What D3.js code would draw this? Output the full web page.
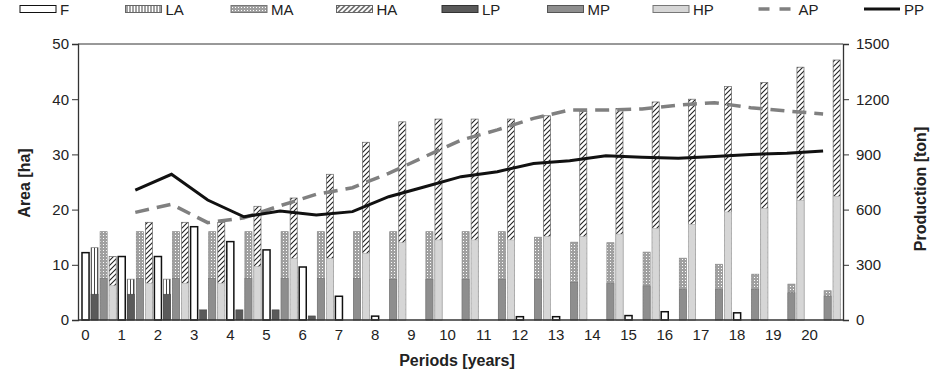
<!DOCTYPE html>
<html>
<head>
<meta charset="utf-8">
<script src="https://cdn.jsdelivr.net/npm/d3@7"></script>
<style>
  body { margin: 0; background: #fff; }
  svg { display: block; font-family: "Liberation Sans", Arial, sans-serif; }
</style>
</head>
<body>
<div id="chart"></div>
<script>
const width = 930;
const height = 372;

// periods (x tick labels)
const periods = d3.range(0, 21);

// area bars [ha]
const F  = [12.2, 11.5, 11.5, 16.9, 14.2, 12.7, 9.6, 4.3, 0.7, 0, 0, 0, 0.6, 0.6, 0, 0.8, 1.5, 0, 1.3, 0, 0];
const LA = [13.1, 7.4, 7.4, 0, 0, 0, 0, 0, 0, 0, 0, 0, 0, 0, 0, 0, 0, 0, 0, 0, 0];
const MA = [16, 16, 16, 16, 16, 16, 16, 16, 16, 16, 16, 16, 15.0, 14.1, 14.0, 12.3, 11.2, 10.1, 8.3, 6.5, 5.3];
const HA = [11.5, 17.7, 17.7, 17.7, 20.6, 22.1, 26.4, 32.2, 35.9, 36.4, 36.4, 36.4, 37.0, 37.8, 38.3, 39.5, 40.0, 42.3, 43.0, 45.8, 47.1];

// production bars [ton]
const LP = [140, 140, 140, 55, 55, 55, 22, 0, 0, 0, 0, 0, 0, 0, 0, 0, 0, 0, 0, 0, 0];
const MP = [226, 226, 226, 226, 226, 226, 226, 226, 221, 221, 221, 221, 221, 203, 199, 185, 167, 167, 167, 148, 130];
const HP = [186, 200, 200, 200, 290, 335, 335, 362, 420, 435, 435, 435, 453, 453, 467, 498, 520, 587, 607, 650, 672];

// lines [ton], period 0 has no value
const AP = [null, 585, 629, 529, 555, 621, 683, 719, 797, 888, 978, 1033, 1096, 1141, 1141, 1147, 1168, 1181, 1154, 1136, 1120];
const PP = [null, 706, 792, 652, 561, 592, 571, 589, 670, 724, 779, 806, 851, 866, 893, 884, 879, 888, 900, 906, 918];

const areaTicks = [0, 10, 20, 30, 40, 50];
const prodTicks = [0, 300, 600, 900, 1200, 1500];

const plot = { left: 78, right: 843, top: 44, bottom: 320 };

const svg = d3.select("#chart")
    .append("svg")
    .attr("width", width)
    .attr("height", height);

// patterns
const defs = svg.append("defs");

const pLA = defs.append("pattern").attr("id", "pat-la")
    .attr("patternUnits", "userSpaceOnUse").attr("width", 3).attr("height", 4);
pLA.append("rect").attr("width", 3).attr("height", 4).attr("fill", "#fff");
pLA.append("rect").attr("x", 1).attr("width", 1).attr("height", 4).attr("fill", "#444");

const pMA = defs.append("pattern").attr("id", "pat-ma")
    .attr("patternUnits", "userSpaceOnUse").attr("width", 3).attr("height", 3);
pMA.append("rect").attr("width", 3).attr("height", 3).attr("fill", "#a0a0a0");
pMA.append("rect").attr("x", 1).attr("y", 1).attr("width", 1).attr("height", 1).attr("fill", "#fff");

const pHA = defs.append("pattern").attr("id", "pat-ha")
    .attr("patternUnits", "userSpaceOnUse").attr("width", 5).attr("height", 5);
pHA.append("rect").attr("width", 5).attr("height", 5).attr("fill", "#fff");
pHA.append("path").attr("d", "M-1,6 L6,-1 M-1,1 L1,-1 M4,6 L6,4")
    .attr("stroke", "#222").attr("stroke-width", 1.1);

// scales
const x = d3.scaleBand()
    .domain(periods)
    .range([81, 841.2])
    .padding(0);

const sub = d3.scaleBand()
    .domain(["F", "L", "M", "H"])
    .range([0, x.bandwidth()])
    .paddingInner(0.22)
    .paddingOuter(0.11);

const yA = d3.scaleLinear().domain([0, 50]).range([plot.bottom, plot.top]);
const yP = d3.scaleLinear().domain([0, 1500]).range([plot.bottom, plot.top]);

// bar groups: [key, value array, scale, fill, stroke, strokeWidth]
const barSeries = [
    ["F", F, yA, "#fff", "#111", 1.5],
    ["L", LA, yA, "url(#pat-la)", "#777", 0.7],
    ["M", MA, yA, "url(#pat-ma)", "#888", 0.7],
    ["H", HA, yA, "url(#pat-ha)", "#666", 0.7],
    ["L", LP, yP, "#5a5a5a", "#444", 0.6],
    ["M", MP, yP, "#8e8e8e", "#777", 0.6],
    ["H", HP, yP, "#d6d6d6", "#b0b0b0", 0.6]
];

barSeries.forEach(([key, vals, scale, fill, stroke, sw]) => {
    svg.append("g")
        .selectAll("rect")
        .data(vals.map((v, i) => ({ p: periods[i], v })).filter(d => d.v > 0))
        .enter()
        .append("rect")
        .attr("x", d => x(d.p) + sub(key))
        .attr("width", sub.bandwidth())
        .attr("y", d => scale(d.v))
        .attr("height", d => scale(0) - scale(d.v))
        .attr("fill", fill)
        .attr("stroke", stroke)
        .attr("stroke-width", sw);
});

// lines
const line = d3.line()
    .defined(d => d.v != null)
    .x(d => x(d.p) + x.bandwidth() / 2)
    .y(d => yP(d.v));

svg.append("path")
    .datum(AP.map((v, i) => ({ p: periods[i], v })))
    .attr("d", line)
    .attr("fill", "none")
    .attr("stroke", "#808080")
    .attr("stroke-width", 3.5)
    .attr("stroke-dasharray", "14,8");

svg.append("path")
    .datum(PP.map((v, i) => ({ p: periods[i], v })))
    .attr("d", line)
    .attr("fill", "none")
    .attr("stroke", "#111")
    .attr("stroke-width", 3);

// frame / axes
const axisColor = "#333";
svg.append("line")
    .attr("x1", plot.left).attr("x2", plot.right)
    .attr("y1", plot.top).attr("y2", plot.top)
    .attr("stroke", axisColor).attr("stroke-width", 1);
svg.append("line")
    .attr("x1", plot.left).attr("x2", plot.right)
    .attr("y1", plot.bottom).attr("y2", plot.bottom)
    .attr("stroke", axisColor).attr("stroke-width", 1.3);

const leftAxis = svg.append("g")
    .attr("transform", `translate(${plot.left},0)`)
    .call(d3.axisLeft(yA).tickValues(areaTicks).tickSize(6).tickPadding(3));
const rightAxis = svg.append("g")
    .attr("transform", `translate(${plot.right},0)`)
    .call(d3.axisRight(yP).tickValues(prodTicks).tickFormat(d3.format("d")).tickSize(6).tickPadding(7));

[leftAxis, rightAxis].forEach(g => {
    g.select(".domain").attr("stroke", axisColor).attr("stroke-width", 1.3);
    g.selectAll(".tick line").attr("stroke", axisColor);
    g.selectAll(".tick text")
        .attr("font-family", "Liberation Sans, Arial, sans-serif")
        .attr("font-size", 15)
        .attr("fill", "#222");
});

// x tick labels, centred under the F bar of each period
svg.append("g")
    .selectAll("text")
    .data(periods)
    .enter()
    .append("text")
    .attr("x", d => x(d) + sub("F") + sub.bandwidth() / 2)
    .attr("y", 340)
    .attr("text-anchor", "middle")
    .attr("font-size", 15)
    .attr("fill", "#222")
    .text(d => d);

// axis titles
svg.append("text")
    .attr("x", 457).attr("y", 366)
    .attr("text-anchor", "middle")
    .attr("font-size", 16).attr("font-weight", "bold").attr("fill", "#222")
    .text("Periods [years]");

svg.append("text")
    .attr("transform", "translate(30,183) rotate(-90)")
    .attr("text-anchor", "middle")
    .attr("font-size", 16).attr("font-weight", "bold").attr("fill", "#222")
    .text("Area [ha]");

svg.append("text")
    .attr("transform", "translate(926,189) rotate(-90)")
    .attr("text-anchor", "middle")
    .attr("font-size", 16).attr("font-weight", "bold").attr("fill", "#222")
    .text("Production [ton]");

// legend
const legendItems = [
    { name: "F", type: "rect", fill: "#fff", stroke: "#111" },
    { name: "LA", type: "rect", fill: "url(#pat-la)", stroke: "#666" },
    { name: "MA", type: "rect", fill: "url(#pat-ma)", stroke: "#777" },
    { name: "HA", type: "rect", fill: "url(#pat-ha)", stroke: "#666" },
    { name: "LP", type: "rect", fill: "#5a5a5a", stroke: "#333" },
    { name: "MP", type: "rect", fill: "#8e8e8e", stroke: "#555" },
    { name: "HP", type: "rect", fill: "#d6d6d6", stroke: "#777" },
    { name: "AP", type: "dash" },
    { name: "PP", type: "line" }
];

const legend = svg.append("g").attr("transform", "translate(20,9)");
legendItems.forEach((d, i) => {
    const g = legend.append("g").attr("transform", `translate(${i * 105.5},0)`);
    if (d.type === "rect") {
        g.append("rect")
            .attr("x", 0).attr("y", -3.5).attr("width", 36).attr("height", 7)
            .attr("fill", d.fill).attr("stroke", d.stroke).attr("stroke-width", 1);
    } else if (d.type === "dash") {
        g.append("line")
            .attr("x1", 0).attr("x2", 36).attr("y1", 0).attr("y2", 0)
            .attr("stroke", "#808080").attr("stroke-width", 3.5)
            .attr("stroke-dasharray", "11,10");
    } else {
        g.append("line")
            .attr("x1", 0).attr("x2", 36).attr("y1", 0).attr("y2", 0)
            .attr("stroke", "#111").attr("stroke-width", 3);
    }
    g.append("text")
        .attr("x", 40).attr("y", 5.5)
        .attr("font-size", 15).attr("fill", "#222")
        .text(d.name);
});
</script>
</body>
</html>
